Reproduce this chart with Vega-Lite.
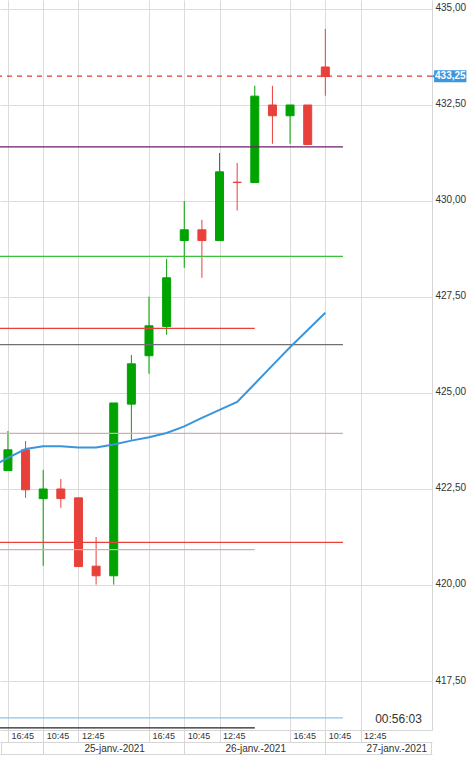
{
  "$schema": "https://vega.github.io/schema/vega-lite/v6.json",
  "width": 432,
  "height": 730,
  "autosize": "none",
  "padding": {"left": 0, "top": 0, "right": 40, "bottom": 27},
  "background": "white",
  "config": {
    "view": {"stroke": null},
    "font": "Liberation Sans",
    "scale": {"continuousPadding": 0},
    "locale": {"number": {"decimal": ",", "thousands": " ", "grouping": [3], "currency": ["", " €"]}},
    "axis": {"labelFont": "Liberation Sans", "labelColor": "#333333", "labelFontSize": 10}
  },
  "datasets": {
    "candles": [
      {"i": 0, "o": 422.98, "h": 424.01, "l": 422.98, "c": 423.52},
      {"i": 1, "o": 423.52, "h": 423.75, "l": 422.27, "c": 422.48},
      {"i": 2, "o": 422.25, "h": 423.00, "l": 420.50, "c": 422.50},
      {"i": 3, "o": 422.50, "h": 422.76, "l": 422.01, "c": 422.25},
      {"i": 4, "o": 422.27, "h": 422.27, "l": 420.48, "c": 420.48},
      {"i": 5, "o": 420.49, "h": 421.25, "l": 420.01, "c": 420.24},
      {"i": 6, "o": 420.24, "h": 424.74, "l": 420.01, "c": 424.74},
      {"i": 7, "o": 424.71, "h": 425.99, "l": 423.78, "c": 425.76},
      {"i": 8, "o": 425.97, "h": 427.51, "l": 425.50, "c": 426.75},
      {"i": 9, "o": 426.73, "h": 428.49, "l": 426.52, "c": 428.00},
      {"i": 10, "o": 428.97, "h": 430.00, "l": 428.26, "c": 429.25},
      {"i": 11, "o": 429.25, "h": 429.51, "l": 428.00, "c": 428.97},
      {"i": 12, "o": 428.97, "h": 431.25, "l": 428.97, "c": 430.76},
      {"i": 13, "o": 430.49, "h": 430.99, "l": 429.75, "c": 430.48},
      {"i": 14, "o": 430.48, "h": 433.00, "l": 430.48, "c": 432.73},
      {"i": 15, "o": 432.50, "h": 433.00, "l": 431.49, "c": 432.22},
      {"i": 16, "o": 432.22, "h": 432.50, "l": 431.49, "c": 432.50},
      {"i": 17, "o": 432.50, "h": 432.50, "l": 431.47, "c": 431.47},
      {"i": 18, "o": 433.49, "h": 434.48, "l": 432.74, "c": 433.24}
    ],
    "ma": [
      {"i": -1, "v": 423.06}, {"i": 0, "v": 423.31}, {"i": 1, "v": 423.54},
      {"i": 2, "v": 423.61}, {"i": 3, "v": 423.61}, {"i": 4, "v": 423.58},
      {"i": 5, "v": 423.58}, {"i": 6, "v": 423.66}, {"i": 7, "v": 423.76},
      {"i": 8, "v": 423.85}, {"i": 9, "v": 423.96}, {"i": 10, "v": 424.13},
      {"i": 11, "v": 424.35}, {"i": 12, "v": 424.56}, {"i": 13, "v": 424.77},
      {"i": 14, "v": 425.24}, {"i": 15, "v": 425.72}, {"i": 16, "v": 426.19},
      {"i": 17, "v": 426.64}, {"i": 18, "v": 427.09}
    ],
    "levels": [
      {"kind": "purple", "v": 431.41, "from": -1, "to": 19.0},
      {"kind": "green", "v": 428.56, "from": -1, "to": 19.0},
      {"kind": "red", "v": 426.685, "from": -1, "to": 14.0},
      {"kind": "darkgray", "v": 426.26, "from": -1, "to": 19.0},
      {"kind": "pink", "v": 423.95, "from": -1, "to": 19.0},
      {"kind": "red", "v": 421.11, "from": -1, "to": 19.0},
      {"kind": "pink", "v": 420.92, "from": -1, "to": 14.0},
      {"kind": "lightblue", "v": 416.54, "from": -1, "to": 19.0},
      {"kind": "black", "v": 416.28, "from": -1, "to": 14.0}
    ],
    "price": [{"p": 433.25}],
    "timer": [{"label": "00:56:03"}]
  },
  "resolve": {"axis": {"x": "independent"}},
  "layer": [
    {
      "data": {"name": "candles"},
      "mark": {"type": "rule", "strokeWidth": 1, "clip": true},
      "encoding": {
        "x": {
          "field": "i", "type": "quantitative",
          "scale": {"domain": [-0.45, 24.05], "nice": false, "zero": false, "padding": 0},
          "axis": {
            "orient": "bottom", "title": null,
            "values": [0, 2, 4, 8, 10, 12, 16, 18, 20],
            "grid": true, "gridColor": "#dcdcdc", "gridWidth": 1,
            "domainColor": "#d6d6d6",
            "ticks": true, "tickSize": 12, "tickColor": "#d6d6d6",
            "labelAlign": "left", "labelBaseline": "top", "labelFontSize": 9,
            "labelPadding": -11, "labelOffset": 3,
            "labelFlush": false, "labelOverlap": false, "labelBound": false,
            "labelExpr": "datum.value % 8 == 0 ? '16:45' : (datum.value % 8 == 2 ? '10:45' : '12:45')"
          }
        },
        "y": {
          "field": "l", "type": "quantitative", "title": null,
          "scale": {"domain": [416.224, 435.234], "nice": false, "zero": false, "padding": 0},
          "axis": {
            "orient": "right", "title": null,
            "values": [417.5, 420, 422.5, 425, 427.5, 430, 432.5, 435],
            "format": ".2f",
            "grid": true, "gridColor": "#dcdcdc", "gridWidth": 1,
            "domainColor": "#d6d6d6",
            "ticks": false, "tickSize": 0,
            "labelPadding": 3, "labelAlign": "left", "labelBaseline": "middle", "labelOffset": -1, "labelFontSize": 10
          }
        },
        "y2": {"field": "h"},
        "color": {"condition": {"test": "datum.c >= datum.o", "value": "#00a300"}, "value": "#e8403a"}
      }
    },
    {
      "data": {"name": "candles"},
      "mark": {"type": "bar", "size": 8, "strokeWidth": 1, "clip": true},
      "encoding": {
        "x": {
          "field": "i", "type": "quantitative",
          "scale": {"domain": [-0.45, 24.05], "nice": false, "zero": false, "padding": 0},
          "axis": {
            "orient": "bottom", "title": null, "offset": 12,
            "values": [-0.4, 2, 10, 18, 24],
            "grid": false,
            "domainColor": "#d6d6d6",
            "ticks": true, "tickSize": 12, "tickColor": "#d6d6d6",
            "labelAlign": "center", "labelBaseline": "top",
            "labelPadding": -11, "labelOffset": 71,
            "labelFlush": false, "labelOverlap": false, "labelBound": false,
            "labelExpr": "datum.value == 2 ? '25-janv.-2021' : (datum.value == 10 ? '26-janv.-2021' : (datum.value == 18 ? '27-janv.-2021' : ''))"
          }
        },
        "y": {"field": "o", "type": "quantitative", "title": null, "scale": {"domain": [416.224, 435.234], "nice": false, "zero": false, "padding": 0}},
        "y2": {"field": "c"},
        "color": {"condition": {"test": "datum.c >= datum.o", "value": "#00a300"}, "value": "#e8403a"},
        "stroke": {"condition": {"test": "datum.c >= datum.o", "value": "#00a300"}, "value": "#e8403a"}
      }
    },
    {
      "data": {"name": "levels"},
      "mark": {"type": "rule", "clip": true},
      "encoding": {
        "x": {"field": "from", "type": "quantitative", "axis": null, "scale": {"domain": [-0.45, 24.05], "nice": false, "zero": false, "padding": 0}},
        "x2": {"field": "to"},
        "y": {"field": "v", "type": "quantitative", "title": null, "scale": {"domain": [416.224, 435.234], "nice": false, "zero": false, "padding": 0}},
        "color": {
          "field": "kind", "type": "nominal", "legend": null,
          "scale": {
            "domain": ["purple", "green", "red", "darkgray", "pink", "lightblue", "black"],
            "range": ["#6a1d6a", "#3cc03c", "#e8403a", "#707070", "#cfb0b0", "#8cc3ea", "#222222"]
          }
        },
        "strokeWidth": {
          "field": "kind", "type": "nominal", "legend": null,
          "scale": {
            "domain": ["purple", "green", "red", "darkgray", "pink", "lightblue", "black"],
            "range": [1.2, 1.3, 1.3, 2, 2, 2, 1.5]
          }
        }
      }
    },
    {
      "data": {"name": "ma"},
      "mark": {"type": "line", "color": "#3a96dc", "strokeWidth": 2, "clip": true},
      "encoding": {
        "x": {
          "field": "i", "type": "quantitative",
          "scale": {"domain": [-0.45, 24.05], "nice": false, "zero": false, "padding": 0},
          "axis": {
            "orient": "bottom", "title": null, "offset": 24, "domain": true, "domainColor": "#d6d6d6",
            "ticks": false, "labels": false, "grid": false
          }
        },
        "y": {"field": "v", "type": "quantitative", "title": null, "scale": {"domain": [416.224, 435.234], "nice": false, "zero": false, "padding": 0}}
      }
    },
    {
      "data": {"name": "price"},
      "mark": {"type": "rule", "color": "#f0342a", "strokeWidth": 1.2, "strokeDash": [5, 5]},
      "encoding": {
        "y": {"field": "p", "type": "quantitative", "title": null, "scale": {"domain": [416.224, 435.234], "nice": false, "zero": false, "padding": 0}}
      }
    },
    {
      "data": {"name": "price"},
      "mark": {"type": "bar", "size": 12, "color": "#3d97e0", "clip": false},
      "encoding": {
        "x": {"datum": 24.17, "type": "quantitative", "axis": null, "scale": {"domain": [-0.45, 24.05], "nice": false, "zero": false, "padding": 0}},
        "x2": {"datum": 26.0},
        "y": {"field": "p", "type": "quantitative", "title": null, "scale": {"domain": [416.224, 435.234], "nice": false, "zero": false, "padding": 0}}
      }
    },
    {
      "data": {"name": "price"},
      "mark": {"type": "point", "shape": "triangle-left", "filled": true, "size": 18, "color": "#3d97e0", "opacity": 1, "clip": false},
      "encoding": {
        "x": {"datum": 24.12, "type": "quantitative", "axis": null, "scale": {"domain": [-0.45, 24.05], "nice": false, "zero": false, "padding": 0}},
        "y": {"field": "p", "type": "quantitative", "title": null, "scale": {"domain": [416.224, 435.234], "nice": false, "zero": false, "padding": 0}}
      }
    },
    {
      "data": {"name": "price"},
      "mark": {"type": "text", "color": "white", "fontSize": 10, "fontWeight": "bold", "align": "center", "baseline": "middle", "clip": false},
      "encoding": {
        "x": {"datum": 25.09, "type": "quantitative", "axis": null, "scale": {"domain": [-0.45, 24.05], "nice": false, "zero": false, "padding": 0}},
        "y": {"field": "p", "type": "quantitative", "title": null, "scale": {"domain": [416.224, 435.234], "nice": false, "zero": false, "padding": 0}},
        "text": {"field": "p", "type": "quantitative", "format": ".2f"}
      }
    },
    {
      "data": {"name": "timer"},
      "mark": {"type": "text", "color": "#333333", "fontSize": 12, "align": "center", "baseline": "middle"},
      "encoding": {
        "x": {"datum": 22.15, "type": "quantitative", "axis": null, "scale": {"domain": [-0.45, 24.05], "nice": false, "zero": false, "padding": 0}},
        "y": {"datum": 416.52, "type": "quantitative", "title": null, "scale": {"domain": [416.224, 435.234], "nice": false, "zero": false, "padding": 0}},
        "text": {"field": "label", "type": "nominal"}
      }
    }
  ]
}
